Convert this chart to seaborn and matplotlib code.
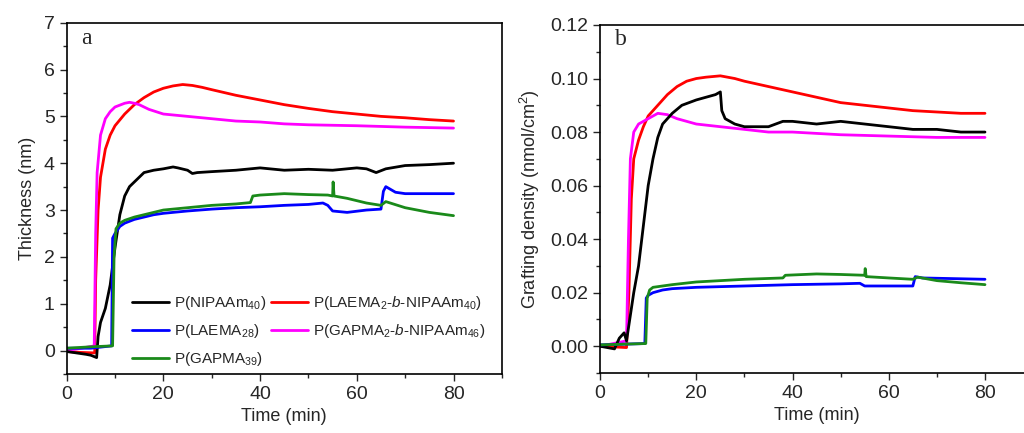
import matplotlib
matplotlib.use("Agg")
import matplotlib.pyplot as plt
import seaborn as sns
from matplotlib.ticker import MultipleLocator, FormatStrFormatter

# ---- panel a: thickness (nm) ----
t_nipaam_a = [0, 2, 4, 5, 6.2, 6.5, 7, 8, 9, 10, 11, 12, 13, 14, 15, 16, 18, 20, 22, 23, 25, 26, 27, 30, 35, 40, 45, 50, 55, 60, 62, 64, 66, 70, 75, 80]
y_nipaam_a = [-0.02, -0.05, -0.08, -0.1, -0.15, 0.3, 0.6, 0.9, 1.4, 2.2, 2.9, 3.3, 3.5, 3.6, 3.7, 3.8, 3.85, 3.88, 3.92, 3.9, 3.85, 3.78, 3.8, 3.82, 3.85, 3.9, 3.85, 3.87, 3.85, 3.9, 3.88, 3.8, 3.88, 3.95, 3.97, 4.0]

t_laema_nip_a = [0, 3, 5.8, 6, 6.5, 7, 8, 9, 10, 12, 14, 16, 18, 20, 22, 24, 26, 28, 30, 35, 40, 45, 50, 55, 60, 65, 70, 75, 80]
y_laema_nip_a = [-0.02, -0.04, -0.05, 1.5, 3.0, 3.7, 4.3, 4.6, 4.8, 5.05, 5.25, 5.4, 5.52, 5.6, 5.65, 5.68, 5.66, 5.62, 5.57, 5.45, 5.35, 5.25, 5.17, 5.1, 5.05, 5.0, 4.97, 4.93, 4.9]

t_gapma_nip_a = [0, 3, 5.7, 6.0, 6.3, 7, 8, 9, 10, 12, 13, 14, 15, 17, 20, 25, 30, 35, 40, 45, 50, 60, 70, 80]
y_gapma_nip_a = [0.0, 0.05, 0.1, 2.5, 3.8, 4.6, 4.95, 5.1, 5.2, 5.28, 5.3, 5.28, 5.25, 5.15, 5.05, 5.0, 4.95, 4.9, 4.88, 4.84, 4.82, 4.8, 4.77, 4.75]

t_laema_a = [0, 5, 9.3, 9.5, 10, 11, 12, 14, 16, 18, 20, 25, 30, 35, 40, 45, 50, 53, 54, 55, 58, 62, 65, 65.5, 66, 68, 70, 75, 80]
y_laema_a = [0.05, 0.05, 0.1, 2.4, 2.5, 2.65, 2.72, 2.8, 2.85, 2.9, 2.93, 2.98, 3.02, 3.05, 3.07, 3.1, 3.12, 3.15, 3.1, 2.98, 2.95, 3.0, 3.02, 3.4, 3.5, 3.38, 3.35, 3.35, 3.35]

t_gapma_a = [0, 5, 9.5, 9.8, 10.2, 11, 12, 14, 16, 18, 20, 25, 30, 35, 38, 38.5, 40, 45, 50, 54, 55, 55.1, 55.3, 58, 62, 65, 66, 70, 75, 80]
y_gapma_a = [0.05, 0.08, 0.1, 2.0, 2.6, 2.72, 2.78, 2.85, 2.9, 2.95, 3.0, 3.05, 3.1, 3.13, 3.16, 3.3, 3.32, 3.35, 3.33, 3.32, 3.3, 3.6, 3.3, 3.25, 3.15, 3.1, 3.18, 3.05, 2.95, 2.88]

# ---- panel b: grafting density (nmol/cm2) ----
t_nipaam_b = [0, 3, 4, 5, 5.5, 6, 7, 8, 9, 10, 11, 12, 13, 15, 17, 20, 22, 24, 25, 25.3, 26, 28, 30, 35, 38, 40, 45, 50, 55, 60, 65, 70, 75, 80]
y_nipaam_b = [0.0, -0.001, 0.003, 0.005, 0.002, 0.008, 0.02, 0.03, 0.045, 0.06, 0.07, 0.078, 0.083, 0.087, 0.09, 0.092, 0.093, 0.094, 0.095, 0.088, 0.085, 0.083, 0.082, 0.082, 0.084, 0.084, 0.083, 0.084, 0.083, 0.082, 0.081, 0.081, 0.08, 0.08]

t_laema_nip_b = [0, 5.5, 6, 6.5, 7, 8, 9, 10, 12, 14, 16, 18, 20, 22, 25, 28, 30, 35, 40, 45, 50, 55, 60, 65, 70, 75, 80]
y_laema_nip_b = [0.0, -0.0005, 0.02, 0.055, 0.07, 0.077, 0.082, 0.086, 0.09, 0.094, 0.097, 0.099, 0.1, 0.1005, 0.101, 0.1, 0.099, 0.097, 0.095, 0.093, 0.091, 0.09, 0.089, 0.088, 0.0875, 0.087, 0.087]

t_gapma_nip_b = [0, 5.5, 5.9, 6.3, 7, 8, 10, 12, 14, 16, 18, 20, 25, 30, 35, 40, 50, 60, 70, 80]
y_gapma_nip_b = [0.0, 0.002, 0.04, 0.07, 0.08, 0.083, 0.085, 0.087, 0.0865, 0.085, 0.084, 0.083, 0.082, 0.081, 0.08, 0.08, 0.079, 0.0785, 0.078, 0.078]

t_laema_b = [0, 9.3, 9.6, 10, 11, 13, 15, 20, 30, 40, 50, 54, 55, 60, 65, 65.5, 67, 80]
y_laema_b = [0.0005, 0.001, 0.018, 0.019, 0.02, 0.021, 0.0215, 0.022, 0.0225, 0.023, 0.0233, 0.0235, 0.0225, 0.0225, 0.0225, 0.026, 0.0255, 0.025]

t_gapma_b = [0, 9.5, 9.8, 10.3, 11, 13, 15, 20, 30, 38, 38.5, 45, 50, 55, 55.1, 55.3, 60, 65, 66, 70, 75, 80]
y_gapma_b = [0.0005, 0.001, 0.018, 0.021, 0.022, 0.0225, 0.023, 0.024, 0.025, 0.0255, 0.0265, 0.027, 0.0268, 0.0265, 0.029, 0.026, 0.0255, 0.025, 0.0258, 0.0245, 0.0237, 0.023]

labels = ["P(NIPAAm$_{40}$)", "P(LAEMA$_{28}$)", "P(GAPMA$_{39}$)",
          "P(LAEMA$_{2}$-$b$-NIPAAm$_{40}$)", "P(GAPMA$_{2}$-$b$-NIPAAm$_{46}$)"]
colors = ["black", "#0000ff", "#1a8a1a", "#ff0000", "#ff00ff"]

series_a = [(t_nipaam_a, y_nipaam_a), (t_laema_a, y_laema_a), (t_gapma_a, y_gapma_a),
            (t_laema_nip_a, y_laema_nip_a), (t_gapma_nip_a, y_gapma_nip_a)]
series_b = [(t_nipaam_b, y_nipaam_b), (t_laema_b, y_laema_b), (t_gapma_b, y_gapma_b),
            (t_laema_nip_b, y_laema_nip_b), (t_gapma_nip_b, y_gapma_nip_b)]

sns.set_style("ticks")
plt.rcParams['font.family'] = ['Liberation Sans', 'DejaVu Sans']
plt.rcParams['mathtext.fontset'] = 'custom'
plt.rcParams['mathtext.rm'] = 'Liberation Sans'
plt.rcParams['mathtext.it'] = 'Liberation Sans:italic'

fig = plt.figure(figsize=(10.24, 4.33), dpi=100)
ax_a = fig.add_axes([0.0651, 0.1363, 0.4250, 0.8113])
ax_b = fig.add_axes([0.5860, 0.1386, 0.4229, 0.8037])

# draw order: keep the fast risers underneath like the original
order = [3, 4, 0, 1, 2]
for i in order:
    t, y = series_a[i]
    sns.lineplot(x=t, y=y, ax=ax_a, color=colors[i], linewidth=2.0, estimator=None, sort=False)
    t, y = series_b[i]
    sns.lineplot(x=t, y=y, ax=ax_b, color=colors[i], linewidth=2.0, estimator=None, sort=False)

for ax in (ax_a, ax_b):
    ax.set_xlim(0, 90)
    ax.xaxis.set_minor_locator(MultipleLocator(10))
    ax.set_xticks([0, 20, 40, 60, 80])
    ax.set_xlabel("Time (min)", fontsize=13)
    ax.tick_params(axis='both', which='major', direction='out', length=5, width=1, labelsize=14, top=False, right=False)
    ax.tick_params(axis='both', which='minor', direction='out', length=3, width=1, top=False, right=False)
    for sp in ax.spines.values():
        sp.set_visible(True)
        sp.set_linewidth(1.2)
        sp.set_color("black")

ax_a.set_ylim(-0.5, 7)
ax_a.yaxis.set_major_locator(MultipleLocator(1))
ax_a.yaxis.set_minor_locator(MultipleLocator(0.5))
ax_a.set_ylabel("Thickness (nm)", fontsize=13, labelpad=6)
ax_a.text(3, 6.55, "a", family=['Liberation Serif'], fontsize=17)

ax_b.set_ylim(-0.01, 0.12)
ax_b.yaxis.set_major_locator(MultipleLocator(0.02))
ax_b.yaxis.set_minor_locator(MultipleLocator(0.01))
ax_b.yaxis.set_major_formatter(FormatStrFormatter('%.2f'))
ax_b.set_ylabel("Grafting density (nmol/cm$^2$)", fontsize=13, labelpad=6)
ax_b.text(3, 0.1125, "b", family=['Liberation Serif'], fontsize=17)

handles = [plt.Line2D([0], [0], color=c, linewidth=2.0) for c in colors]
ax_a.legend(handles, labels, ncol=2, loc='lower left', bbox_to_anchor=(0.13, -0.01),
            frameon=False, fontsize=11, handlelength=2.4, handletextpad=0.3,
            columnspacing=0.35, labelspacing=0.65, borderaxespad=0.2)

plt.savefig("out.png", dpi=100)
